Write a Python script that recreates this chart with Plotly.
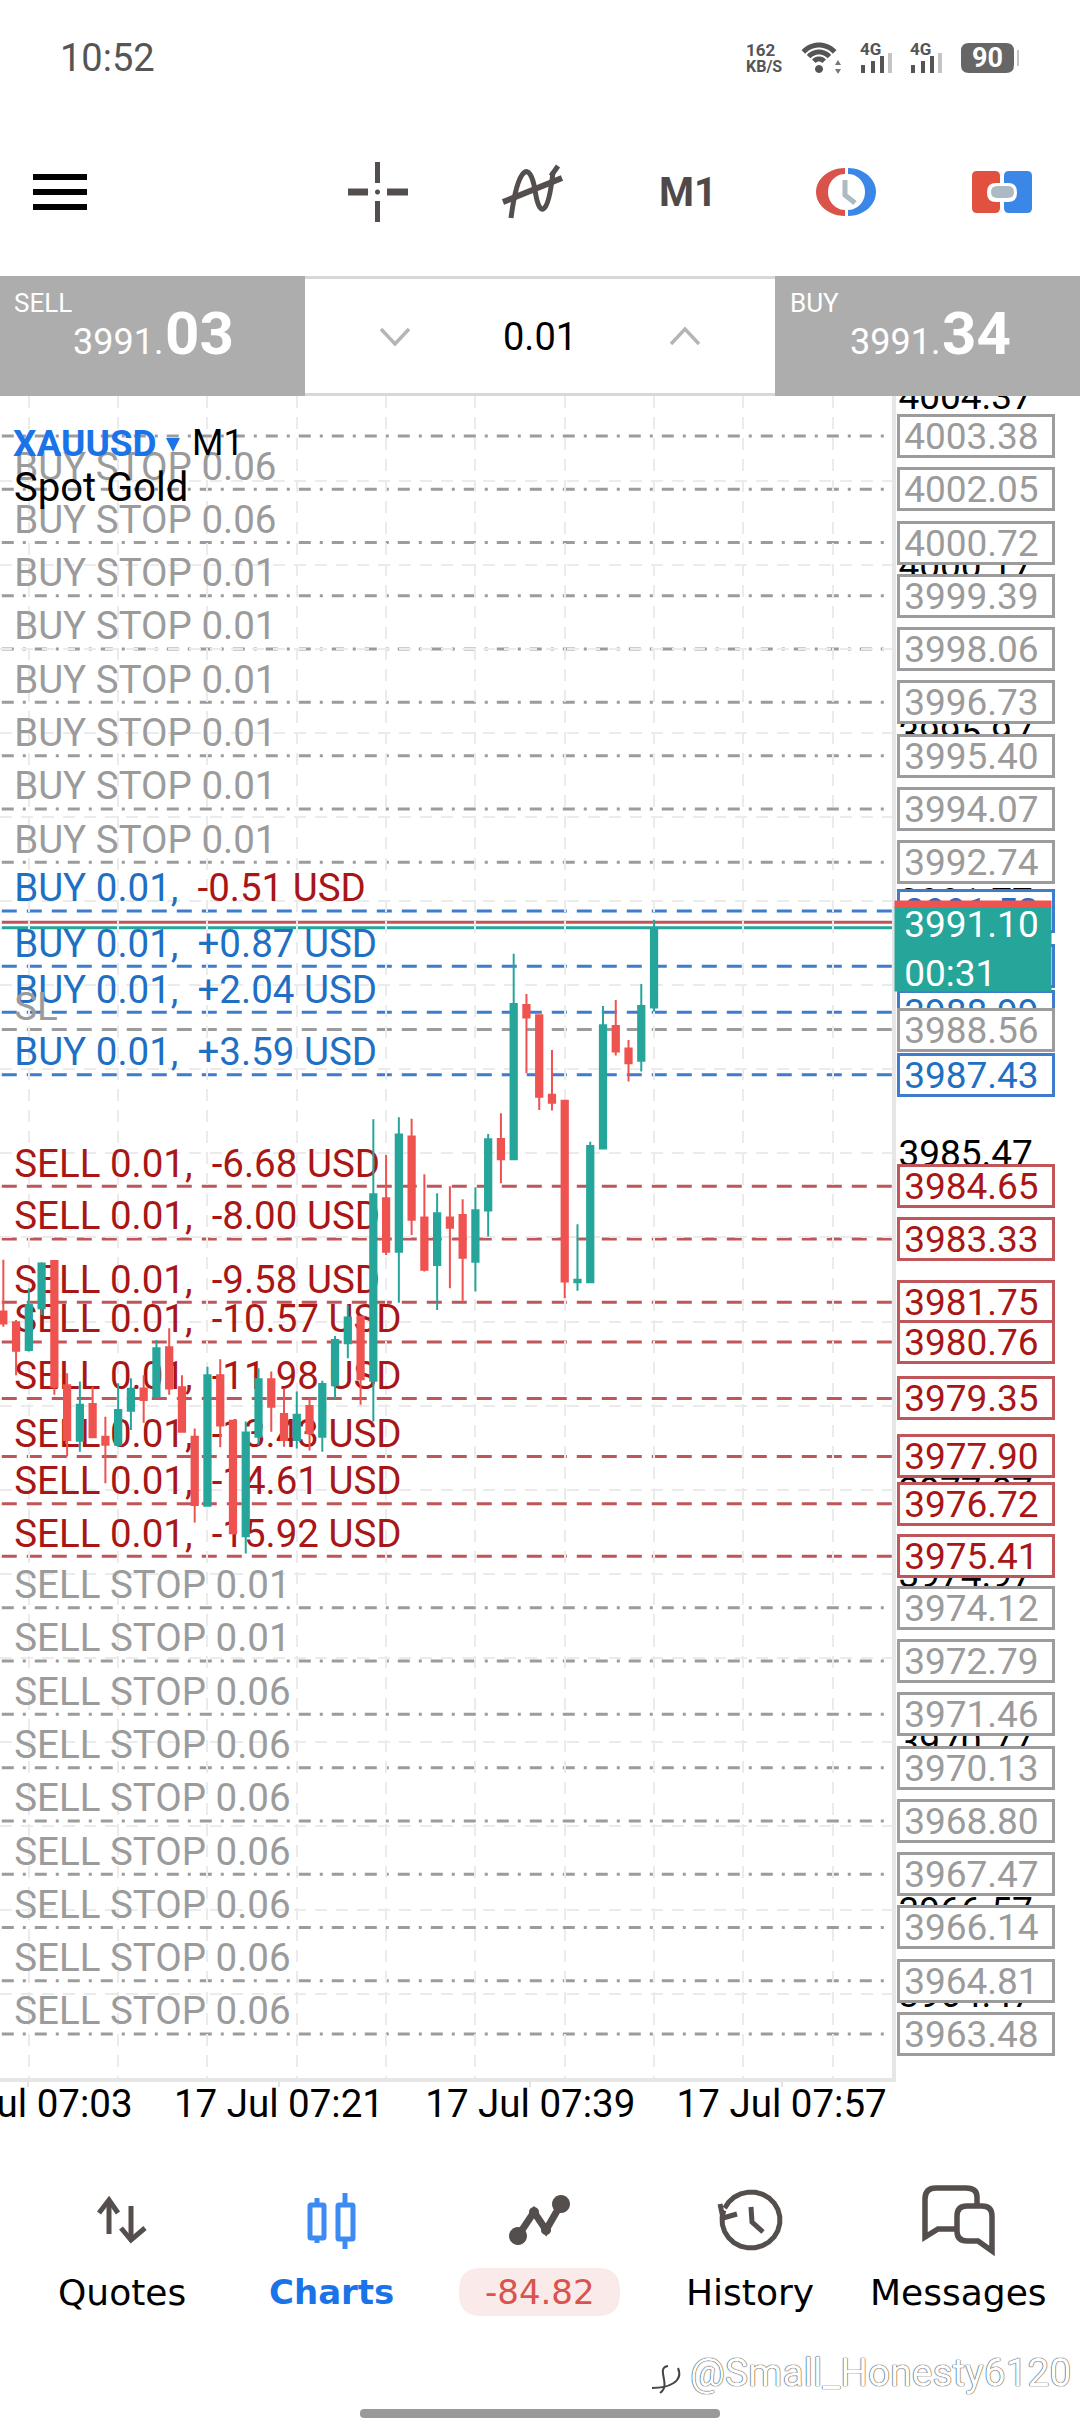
import math
import plotly.graph_objects as go

W, H = 1080, 2436
FONT = "Roboto"
LABEL_SIZE = 38.5
PRICE_SIZE = 37

# 1. CANDLES (M1)
opens = [3981.52, 3981.25, 3980.56, 3981.60, 3982.78, 3979.68, 3978.29, 3979.21, 3978.39, 3978.19,
         3979.04, 3979.60, 3979.39, 3980.63, 3979.63, 3978.39, 3976.67, 3979.93, 3978.79, 3975.91,
         3978.39, 3979.83, 3978.96, 3978.31, 3979.16, 3978.39, 3979.68, 3980.73, 3981.39, 3979.79,
         3984.35, 3983.01, 3985.89, 3983.87, 3982.68, 3983.87, 3983.93, 3982.76, 3984.04, 3985.83,
         3985.32, 3989.17, 3988.92, 3986.93, 3986.78, 3982.25, 3982.25, 3985.59, 3988.65, 3988.09,
         3987.78, 3989.11]
highs = [3982.81, 3981.31, 3982.10, 3982.75, 3982.80, 3979.98, 3979.77, 3979.64, 3978.89, 3979.73,
         3979.85, 3979.93, 3980.81, 3981.10, 3979.93, 3978.60, 3980.14, 3980.33, 3978.80, 3978.77,
         3980.10, 3980.02, 3979.60, 3979.52, 3979.35, 3979.79, 3980.91, 3981.68, 3981.40, 3986.32,
         3985.43, 3986.37, 3986.33, 3984.95, 3984.47, 3984.65, 3984.32, 3984.62, 3985.95, 3986.47,
         3990.45, 3989.45, 3988.93, 3988.05, 3986.80, 3983.70, 3985.76, 3989.15, 3989.30, 3988.30,
         3989.70, 3991.30]
lows = [3981.14, 3979.93, 3980.52, 3981.43, 3979.44, 3977.90, 3978.02, 3978.36, 3977.23, 3978.14,
        3978.56, 3978.74, 3979.37, 3979.44, 3978.50, 3976.25, 3976.65, 3978.13, 3975.94, 3975.48,
        3978.19, 3978.52, 3978.14, 3978.10, 3978.05, 3978.02, 3979.33, 3980.35, 3979.19, 3978.77,
        3982.93, 3981.74, 3983.43, 3982.52, 3981.56, 3982.10, 3981.79, 3982.02, 3983.39, 3984.72,
        3985.30, 3987.47, 3986.55, 3986.54, 3981.85, 3982.04, 3982.23, 3985.57, 3987.91, 3987.26,
        3987.51, 3989.01]
closes = [3981.22, 3980.54, 3981.68, 3982.72, 3979.64, 3978.31, 3979.19, 3978.38, 3978.19, 3979.06,
          3979.59, 3979.31, 3980.60, 3979.60, 3978.52, 3976.69, 3979.93, 3978.67, 3975.98, 3978.50,
          3979.83, 3979.14, 3978.31, 3978.94, 3978.48, 3979.71, 3980.81, 3981.37, 3979.83, 3984.45,
          3983.01, 3985.94, 3983.81, 3982.56, 3983.97, 3983.61, 3982.86, 3984.05, 3985.82, 3985.32,
          3989.20, 3988.86, 3986.88, 3986.73, 3982.27, 3982.31, 3985.65, 3988.67, 3988.01, 3987.72,
          3989.15, 3991.10]
bar_index = list(range(len(opens)))

# 2. ORDER LEVELS
buy_stop_prices = [4003.38, 4002.05, 4000.72, 3999.39, 3998.06, 3996.73, 3995.40, 3994.07, 3992.74]
buy_stop_lots = [None, "0.06", "0.06", "0.01", "0.01", "0.01", "0.01", "0.01", "0.01"]
buy_prices = [3991.52, 3990.14, 3988.99, 3987.43]
buy_profits = ["-0.51", "+0.87", "+2.04", "+3.59"]
sell_prices = [3984.65, 3983.33, 3981.75, 3980.76, 3979.35, 3977.90, 3976.72, 3975.41]
sell_profits = ["-6.68", "-8.00", "-9.58", "-10.57", "-11.98", "-13.43", "-14.61", "-15.92"]
sell_stop_prices = [3974.12, 3972.79, 3971.46, 3970.13, 3968.80, 3967.47, 3966.14, 3964.81, 3963.48]
sell_stop_lots = ["0.01", "0.01", "0.06", "0.06", "0.06", "0.06", "0.06", "0.06", "0.06"]
sl_price = 3988.56
ask_line = 3991.24
bid_line = 3991.10

# 3. AXIS TICKS
price_ticks = [4004.37, 4002.27, 4000.17, 3998.07, 3995.97, 3993.87, 3991.77, 3989.67, 3987.57,
               3985.47, 3983.37, 3981.27, 3979.17, 3977.07, 3974.97, 3972.87, 3970.77, 3968.67,
               3966.57, 3964.47]
time_ticks = [1.9, 21.6, 41.3, 61.0]
time_labels = ["17 Jul 07:03", "17 Jul 07:21", "17 Jul 07:39", "17 Jul 07:57"]
grid_bars = [2, 9, 16, 23, 30, 37, 44, 51, 58, 65]

GREEN = "#26a69a"
RED = "#ef5350"
GRAY_TXT = "#9b9b9b"
GRAY_LINE = "#9c9c9c"
BLUE_TXT = "#1f6fc4"
BLUE_LINE = "#3f7ccb"
RED_TXT = "#a81616"
RED_LINE = "#c0565a"
GRID = "#ebebeb"
ICON = "#544e4c"

fig = go.Figure()


def px(x):
    return x / W


def py(y):
    return 1 - y / H


def pt(x, y):
    return f"{px(x):.5f},{py(y):.5f}"


def poly(points, close=False):
    s = "M " + " L ".join(pt(x, y) for x, y in points)
    return s + " Z" if close else s


def arc(cx, cy, rx, ry, a0, a1, n=24):
    # angles en degres, sens trigo, y vers le haut
    pts = []
    for i in range(n + 1):
        a = math.radians(a0 + (a1 - a0) * i / n)
        pts.append((cx + rx * math.cos(a), cy - ry * math.sin(a)))
    return pts


def rounded(x0, y0, x1, y1, r):
    return (f"M {pt(x0 + r, y0)} L {pt(x1 - r, y0)} Q {pt(x1, y0)} {pt(x1, y0 + r)} "
            f"L {pt(x1, y1 - r)} Q {pt(x1, y1)} {pt(x1 - r, y1)} L {pt(x0 + r, y1)} "
            f"Q {pt(x0, y1)} {pt(x0, y1 - r)} L {pt(x0, y0 + r)} Q {pt(x0, y0)} {pt(x0 + r, y0)} Z")


def add_path(path, color=None, width=0, fill=None):
    fig.add_shape(type="path", path=path, xref="paper", yref="paper", layer="above",
                  line=dict(color=color or "rgba(0,0,0,0)", width=width),
                  fillcolor=fill or "rgba(0,0,0,0)")


def add_rect(x0, y0, x1, y1, fill):
    fig.add_shape(type="rect", xref="paper", yref="paper", layer="above", x0=px(x0), x1=px(x1),
                  y0=py(y0), y1=py(y1), fillcolor=fill, line=dict(width=0))


def add_text(x, y, text, size, color="#000000", anchor="center", family=FONT, **kw):
    fig.add_annotation(xref="paper", yref="paper", x=px(x), y=py(y), text=text, showarrow=False,
                       xanchor=anchor, yanchor="middle",
                       font=dict(family=family, size=size, color=color, **kw))


def add_price_box(price, color, border):
    fig.add_annotation(xref="paper", yref="y", x=px(975.5), y=price, text=f"{price:.2f}\u00a0",
                       showarrow=False, xanchor="center", yanchor="middle", width=152, height=38,
                       borderwidth=3, borderpad=0, bordercolor=border, bgcolor="white",
                       font=dict(family=FONT, size=PRICE_SIZE, color=color))


# 4. LIGNES D'ORDRES (sous les bougies)
def add_level(price, color, dash):
    fig.add_shape(type="line", xref="x domain", yref="y", x0=0.002, x1=1, y0=price, y1=price,
                  layer="below", line=dict(color=color, width=3, dash=dash))


for p in buy_stop_prices + sell_stop_prices:
    add_level(p, GRAY_LINE, "12px,9px,3px,9px")
for p in buy_prices:
    add_level(p, BLUE_LINE, "15px,10px")
for p in sell_prices:
    add_level(p, RED_LINE, "15px,10px")
add_level(sl_price, GRAY_LINE, "15px,10px")
add_level(ask_line, RED_LINE, "solid")
add_level(bid_line, GREEN, "solid")

# 5. TEXTE DES ORDRES
label_x = 0.85
label_prices = []
label_texts = []
label_colors = []
for p, lot in zip(buy_stop_prices, buy_stop_lots):
    if lot:
        label_prices.append(p)
        label_texts.append(f"BUY STOP {lot}")
        label_colors.append(GRAY_TXT)
for p, pnl in zip(buy_prices, buy_profits):
    label_prices.append(p)
    if pnl.startswith("-"):
        label_texts.append(f'BUY 0.01,  <span style="color:{RED_TXT}">{pnl} USD</span>')
    else:
        label_texts.append(f"BUY 0.01,  {pnl} USD")
    label_colors.append(BLUE_TXT)
label_prices.append(sl_price)
label_texts.append("SL")
label_colors.append(GRAY_TXT)
for p, pnl in zip(sell_prices, sell_profits):
    label_prices.append(p)
    label_texts.append(f"SELL 0.01,  {pnl} USD")
    label_colors.append(RED_TXT)
for p, lot in zip(sell_stop_prices, sell_stop_lots):
    label_prices.append(p)
    label_texts.append(f"SELL STOP {lot}")
    label_colors.append(GRAY_TXT)

fig.add_trace(go.Scatter(x=[label_x] * len(label_prices), y=label_prices, mode="text",
                         text=label_texts, textposition="top right", hoverinfo="skip",
                         textfont=dict(family=FONT, size=LABEL_SIZE, color=label_colors), showlegend=False))

# 6. BOUGIES, sur un axe superpose pour passer devant le texte
fig.add_trace(go.Candlestick(x=bar_index, open=opens, high=highs, low=lows, close=closes, yaxis="y2",
                             whiskerwidth=0, showlegend=False,
                             increasing=dict(line=dict(color=GREEN, width=2), fillcolor=GREEN),
                             decreasing=dict(line=dict(color=RED, width=2), fillcolor=RED)))

y_range = [3962.38, 4004.38]
fig.update_layout(
    width=W, height=H, margin=dict(l=0, r=0, t=0, b=0), paper_bgcolor="white", plot_bgcolor="white",
    showlegend=False,
    xaxis=dict(domain=[0, 892 / W], range=[-0.26, 69.65], rangeslider=dict(visible=False), automargin=False,
               tickmode="array", tickvals=time_ticks, ticktext=time_labels, showgrid=False,
               zeroline=False, ticks="outside", ticklen=5, tickwidth=2, tickcolor="#e4e4e4",
               ticklabelstandoff=-16, ticklabeloverflow="allow",
               tickfont=dict(family=FONT, size=LABEL_SIZE, color="#000000"),
               showline=True, linecolor="#e6e6e6", linewidth=4,
               minor=dict(tickmode="array", tickvals=grid_bars, showgrid=True, gridcolor=GRID,
                          griddash="12px,9px", gridwidth=2, ticks="")),
    yaxis=dict(domain=[1 - 2078 / H, 1 - 396 / H], range=y_range, side="right", tickmode="array", automargin=False,
               tickvals=price_ticks, ticktext=[f"{v:.2f}" for v in price_ticks], showgrid=True,
               gridcolor=GRID, griddash="12px,9px", gridwidth=2, zeroline=False,
               ticks="", ticklabelstandoff=-5, ticklabeloverflow="allow",
               tickfont=dict(family=FONT, size=PRICE_SIZE, color="#000000"),
               showline=True, linecolor="#e6e6e6", linewidth=4),
    yaxis2=dict(domain=[1 - 2078 / H, 1 - 396 / H], range=y_range, overlaying="y", side="right",
                visible=False, automargin=False),
)

# 7. ETIQUETTES DE PRIX
for p in buy_prices:
    add_price_box(p, BLUE_TXT, BLUE_LINE)
for p in buy_stop_prices + [sl_price] + sell_stop_prices:
    add_price_box(p, GRAY_TXT, GRAY_LINE)
for p in sell_prices:
    add_price_box(p, RED_TXT, RED_LINE)

fig.add_annotation(xref="paper", yref="paper", x=px(973), y=py(949), text="\u00a03991.10<br>\u00a000:31", showarrow=False,
                   xanchor="center", yanchor="middle", align="left", width=156, height=84, bgcolor=GREEN,
                   borderpad=0, font=dict(family=FONT, size=PRICE_SIZE, color="white"))
fig.add_annotation(xref="paper", yref="paper", x=px(973), y=py(904), text=" ", showarrow=False,
                   xanchor="center", yanchor="middle", width=156, height=6, bgcolor=RED, borderpad=0,
                   font=dict(size=4))

# 8. TITRE DU GRAPHIQUE
add_text(11, 443, "<b>XAUUSD</b>", 37, "#1a73e8", "left")
add_path(poly([(166, 438), (180, 438), (173, 452)], True), fill="#1a73e8")
add_text(190, 443, "M1", 36, "#000000", "left")
add_text(12, 488, "Spot Gold", 40, "#000000", "left")

# 9. BARRE DE STATUT
add_text(58, 58, "10:52", 38, "#555555", "left")
add_text(761, 50, "<b>162</b>", 17, "#555555")
add_text(764, 66, "<b>KB/S</b>", 16, "#555555")
for r in [21, 14, 7]:
    add_path(poly(arc(819, 66, r, r, 42, 138)), "#555555", 5)
add_path(poly(arc(819, 69, 4, 4, 0, 360), True), fill="#555555")
add_path(poly([(835, 65), (841, 65), (838, 60)], True), fill="#777777")
add_path(poly([(835, 69), (841, 69), (838, 74)], True), fill="#777777")
for x0 in [0, 50]:
    add_text(870 + x0, 49, "<b>4G</b>", 17, "#555555")
    for dx, top in [(863, 65), (873, 61), (882, 56)]:
        add_rect(dx + x0 - 2, top, dx + x0 + 2, 73, "#555555")
    add_rect(888 + x0, 53, 892 + x0, 73, "#c4c4c4")
add_path(rounded(961, 43, 1014, 73, 8), fill="#666666")
add_rect(1017, 50, 1019, 66, "#c4c4c4")
add_text(987, 58, "<b>90</b>", 27, "white")

# 10. BARRE D'OUTILS
for y0 in [174, 189, 204]:
    add_rect(33, y0, 87, y0 + 6, "#000000")
add_path(poly([(377.5, 162), (377.5, 183)]), ICON, 5)
add_path(poly([(377.5, 201), (377.5, 222)]), ICON, 5)
add_path(poly([(348, 192), (368, 192)]), ICON, 7)
add_path(poly([(387, 192), (408, 192)]), ICON, 7)
add_path(poly(arc(377.5, 192, 2.5, 2.5, 0, 360), True), fill=ICON)
add_path(f"M {pt(511, 218)} C {pt(518, 165)} {pt(530, 160)} {pt(535, 190)} "
         f"C {pt(539, 218)} {pt(548, 218)} {pt(553, 172)}", ICON, 5)
add_path(poly([(503, 202), (562, 178)]), ICON, 6)
add_path(poly([(551, 176), (558, 166)]), ICON, 5)
add_text(688, 192, "<b>M1</b>", 40, "#4f4a48")
# horloge : anneau en deux moities, exterieur ovale, interieur rond
add_path(poly(arc(845, 192, 29, 24, 90, 270) + arc(845, 192, 17, 18, 270, 90), True), fill="#d9534a")
add_path(poly(arc(848, 192, 28, 24, 90, -90) + arc(848, 192, 17, 18, -90, 90), True), fill="#3a87e8")
add_path(poly([(845, 180), (845, 195), (855, 203)]), "#aebac2", 5)
add_path(rounded(972, 171, 1000, 213, 5), fill="#e2503f")
add_path(rounded(1004, 171, 1032, 213, 5), fill="#3b87e8")
add_rect(1000, 183, 1004, 202, "white")
add_path(rounded(987, 183, 1017, 202, 9), fill="white")
add_path(rounded(991, 186, 1014, 198, 6), fill="#aebac2")

# 11. BANDEAU SELL / BUY
add_rect(0, 276, 305, 396, "#adadad")
add_rect(775, 276, 1080, 396, "#adadad")
add_rect(305, 276, 775, 396, "white")
add_rect(305, 276, 775, 279, "#d8d8d8")
add_rect(305, 393, 775, 396, "#d8d8d8")
add_text(12, 303, "SELL", 26, "white", "left")
add_text(788, 303, "BUY", 26, "white", "left")
add_text(165, 342, "3991.", 36, "white", "right")
add_text(163, 333, "<b>03</b>", 60, "white", "left")
add_text(942, 342, "3991.", 36, "white", "right")
add_text(940, 333, "<b>34</b>", 60, "white", "left")
add_text(540, 337, "0.01", 38)
add_path(poly([(381, 329), (395, 344), (409, 329)]), "#b5b5b5", 3.5)
add_path(poly([(671, 344), (685, 329), (699, 344)]), "#b5b5b5", 3.5)

# 12. NAVIGATION DU BAS
add_path(poly([(109, 2202), (109, 2234)]), ICON, 5)
add_path(poly([(99, 2213), (109, 2200), (118, 2213)]), ICON, 5)
add_path(poly([(131, 2206), (131, 2238)]), ICON, 5)
add_path(poly([(121, 2228), (131, 2240), (145, 2228)]), ICON, 5)

add_path(poly([(317, 2198), (317, 2243)]), "#3d8bf2", 5)
add_path(rounded(310, 2205, 324, 2238, 1), "#3d8bf2", 5, "white")
add_path(poly([(345, 2193), (345, 2249)]), "#3d8bf2", 5)
add_path(rounded(338, 2205, 353, 2239, 1), "#3d8bf2", 5, "white")

add_path(poly([(518, 2236), (534, 2212), (546, 2230), (561, 2204)]), ICON, 7)
add_path(poly(arc(518, 2236, 9, 9, 0, 360), True), fill=ICON)
add_path(poly(arc(561, 2204, 9, 9, 0, 360), True), fill=ICON)
add_path(poly(arc(534, 2212, 5, 5, 0, 360), True), fill=ICON)
add_path(poly(arc(546, 2230, 5, 5, 0, 360), True), fill=ICON)

add_path(poly(arc(751, 2220, 29, 28, 155, -200)), ICON, 5)
add_path(poly([(720, 2204), (723, 2218), (737, 2214)]), ICON, 5)
add_path(poly([(751, 2207), (752, 2222), (763, 2232)]), ICON, 5)

add_path(f"M {pt(977, 2204)} L {pt(977, 2197)} Q {pt(977, 2188)} {pt(966, 2188)} L {pt(936, 2188)} "
         f"Q {pt(925, 2188)} {pt(925, 2199)} L {pt(925, 2237)} L {pt(938, 2229)} L {pt(957, 2229)}", ICON, 5.5)
add_path(f"M {pt(967, 2206)} L {pt(982, 2206)} Q {pt(992, 2206)} {pt(992, 2216)} L {pt(992, 2251)} "
         f"L {pt(978, 2241)} L {pt(967, 2241)} Q {pt(957, 2241)} {pt(957, 2231)} L {pt(957, 2216)} "
         f"Q {pt(957, 2206)} {pt(967, 2206)} Z", ICON, 5.5, "white")

NAV = "DejaVu Sans"
add_text(122, 2292, "Quotes", 36, "#000000", family=NAV)
add_text(331, 2292, "<b>Charts</b>", 34, "#1a73e8", family=NAV)
add_path(rounded(459, 2268, 620, 2316, 22), fill="#fbeaea")
add_text(540, 2292, "-84.82", 34, "#d9534f", family=NAV)
add_text(750, 2292, "History", 36, "#000000", family=NAV)
add_text(958, 2292, "Messages", 36, "#000000", family=NAV)

# 13. FILIGRANE ET BARRE HOME
add_path(f"M {pt(668, 2366)} C {pt(655, 2368)} {pt(672, 2385)} {pt(660, 2393)}", "#444444", 2)
add_path(f"M {pt(678, 2368)} C {pt(684, 2382)} {pt(668, 2388)} {pt(652, 2388)}", "#444444", 2)
add_text(688, 2373, "@Small_Honesty6120", 39, "white", "left", shadow="0 0 1px #222222, 0 0 1px #222222")
add_path(rounded(360, 2409, 720, 2418, 4), fill="#999999")

fig.write_html("out.html", config={"displayModeBar": False}, post_script="document.body.style.margin='0';")
